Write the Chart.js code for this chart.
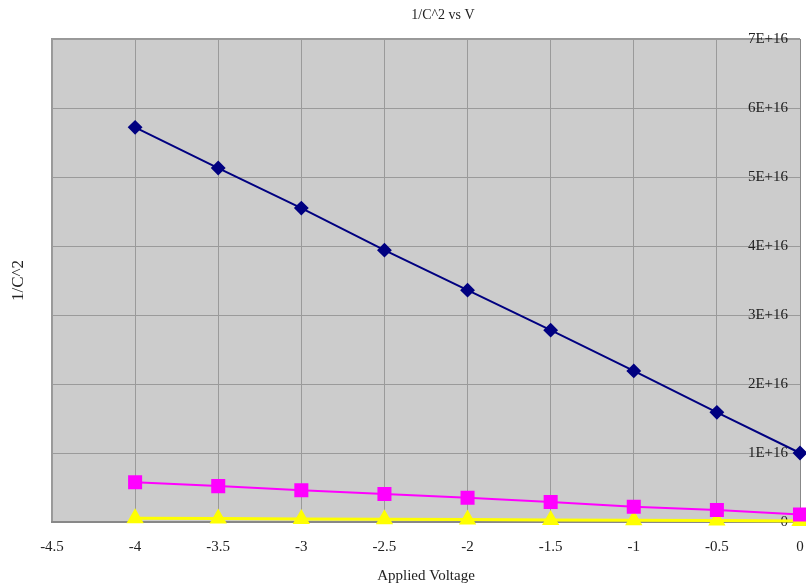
<!DOCTYPE html>
<html>
<head>
<meta charset="utf-8">
<script src="https://cdn.jsdelivr.net/npm/chart.js@4"></script>
<style>
  body { margin: 0; background: #fff; }
  #wrap { width: 806px; height: 588px; }
</style>
</head>
<body>
<div id="wrap"><canvas id="graphic"></canvas></div>
<script>
const ctx = document.getElementById('graphic');

// applied voltage (V)
const voltages = [-4, -3.5, -3, -2.5, -2, -1.5, -1, -0.5, 0];
// 1/C^2 for each sample
const serie1 = [5.72e16, 5.13e16, 4.55e16, 3.94e16, 3.36e16, 2.78e16, 2.19e16, 1.59e16, 1.0e16];
const serie2 = [0.575e16, 0.52e16, 0.46e16, 0.405e16, 0.35e16, 0.29e16, 0.22e16, 0.174e16, 0.11e16];
const serie3 = [0.055e16, 0.05e16, 0.045e16, 0.04e16, 0.035e16, 0.03e16, 0.025e16, 0.02e16, 0.015e16];

const titulo = '1/C^2 vs V';
const fonte = "'Liberation Serif', 'DejaVu Serif', serif";

const pares = (ys) => voltages.map((x, i) => ({ x: x, y: ys[i] }));

// fundo cinza da area de plotagem + titulo
const fundo = {
    id: 'fundo',
    beforeDraw(chart) {
        const { ctx, chartArea: a } = chart;
        ctx.save();
        ctx.fillStyle = '#cccccc';
        ctx.fillRect(a.left, a.top, a.width, a.height);
        ctx.strokeStyle = '#999999';
        ctx.lineWidth = 2;
        ctx.beginPath();
        ctx.moveTo(a.left, a.bottom);
        ctx.lineTo(a.left, a.top);
        ctx.lineTo(a.right, a.top);
        ctx.stroke();
        ctx.restore();
    },
    afterDraw(chart) {
        const c = chart.ctx;
        c.save();
        c.font = '14px ' + fonte;
        c.fillStyle = '#222';
        c.textAlign = 'center';
        c.textBaseline = 'middle';
        c.fillText(titulo, 443, 15);
        c.restore();
    }
};

let grafico = new Chart(ctx, {
    type: 'line',
    data: {
        datasets: [{
            label: 'Series1',
            data: pares(serie1),
            borderColor: '#000080',
            backgroundColor: '#000080',
            borderWidth: 2,
            pointStyle: 'rectRot',
            pointRadius: 6,
            clip: false
        }, {
            label: 'Series2',
            data: pares(serie2),
            borderColor: '#ff00ff',
            backgroundColor: '#ff00ff',
            borderWidth: 2,
            pointStyle: 'rect',
            pointRadius: 8.5,
            clip: false
        }, {
            label: 'Series3',
            data: pares(serie3),
            borderColor: '#ffff00',
            backgroundColor: '#ffff00',
            borderWidth: 3,
            pointStyle: 'triangle',
            pointRadius: 7,
            clip: false
        }]
    },
    options: {
        responsive: true,
        maintainAspectRatio: false,
        animation: false,
        layout: { autoPadding: false, padding: { top: 39, right: 0, left: 0, bottom: 3 } },
        plugins: {
            legend: { display: false },
            tooltip: { enabled: false }
        },
        scales: {
            x: {
                type: 'linear',
                min: -4.5,
                max: 0,
                afterFit: (escala) => { escala.paddingRight = 0; },
                ticks: {
                    stepSize: 0.5,
                    padding: 3,
                    color: '#222',
                    font: { family: fonte, size: 15 },
                    callback: (v) => String(v)
                },
                grid: { color: '#9a9a9a', drawTicks: true, tickLength: 13, tickColor: 'rgba(0,0,0,0)' },
                border: { color: '#888888', width: 2 },
                title: {
                    display: true,
                    text: 'Applied Voltage',
                    color: '#222',
                    font: { family: fonte, size: 15 },
                    padding: { top: 8, bottom: 0 }
                }
            },
            y: {
                position: 'right',
                min: 0,
                max: 7e16,
                afterFit: (escala) => { escala.width = 6; },
                ticks: {
                    stepSize: 1e16,
                    mirror: true,
                    padding: -12,
                    color: '#222',
                    font: { family: fonte, size: 15 },
                    callback: (v) => v === 0 ? '0' : (v / 1e16) + 'E+16'
                },
                grid: { color: '#9a9a9a', drawTicks: false },
                border: { color: '#888888', width: 1 }
            },
            yTitulo: {
                position: 'left',
                display: true,
                ticks: { display: false },
                grid: { display: false, drawTicks: false },
                border: { display: false },
                title: {
                    display: true,
                    text: '1/C^2',
                    color: '#222',
                    font: { family: fonte, size: 17 },
                    padding: { top: 8.8, bottom: 22.8 }
                }
            }
        }
    },
    plugins: [fundo]
});
</script>
</body>
</html>
